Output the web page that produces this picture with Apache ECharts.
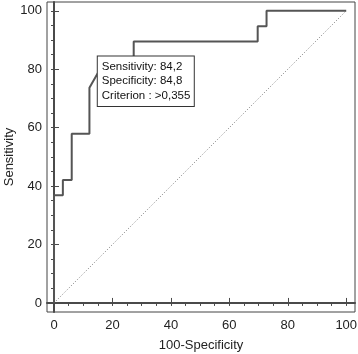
<!DOCTYPE html>
<html>
<head>
<meta charset="utf-8">
<script src="https://cdn.jsdelivr.net/npm/echarts@6/dist/echarts.min.js"></script>
<style>
  html, body { margin: 0; padding: 0; background: #fff; }
  #roc { width: 358px; height: 354px; }
</style>
</head>
<body>
<div id="roc"></div>
<script>
// ROC curve points (100-Specificity, Sensitivity)
var fpr = [0, 0, 3.03, 3.03, 6.06, 6.06, 12.12, 12.12, 15.15, 15.15, 27.27, 27.27, 69.7, 69.7, 72.73, 72.73, 100];
var tpr = [0, 36.84, 36.84, 42.11, 42.11, 57.89, 57.89, 73.68, 78.95, 84.21, 84.21, 89.47, 89.47, 94.74, 94.74, 100, 100];
// reference diagonal
var diagX = [0, 100];
var diagY = [0, 100];
// tick labels
var majorTicks = [0, 20, 40, 60, 80, 100];
var minorTicks = [0, 5, 10, 15, 20, 25, 30, 35, 40, 45, 50, 55, 60, 65, 70, 75, 80, 85, 90, 95, 100];
// optimal criterion
var critPoint = [15.15, 84.21];
var critText = ['Sensitivity: 84,2', 'Specificity: 84,8', 'Criterion : >0,355'];

var font = '"Liberation Sans", Arial, sans-serif';
var axisColor = '#4a4a4a';

function pairs(xs, ys) {
    var out = [];
    for (var i = 0; i < xs.length; i++) {
        out.push([xs[i], ys[i]]);
    }
    return out;
}

function makeAxis(isX, withLabels, ticks, tickLen) {
    var ax = {
        type: 'value',
        min: isX ? -2.4 : -3.1,
        max: 103,
        splitLine: { show: false },
        axisLine: { show: withLabels, lineStyle: { color: axisColor, width: 2 } },
        axisTick: {
            show: true,
            inside: true,
            length: tickLen,
            customValues: ticks,
            lineStyle: { color: axisColor, width: 1 }
        },
        axisLabel: {
            show: withLabels,
            customValues: majorTicks,
            color: '#222',
            fontFamily: font,
            fontSize: 13,
            margin: isX ? 7 : 5
        }
    };
    if (withLabels) {
        ax.name = isX ? '100-Specificity' : 'Sensitivity';
        ax.nameLocation = 'middle';
        ax.nameGap = isX ? 27 : 31;
        ax.nameMoveOverlap = false;
        ax.nameTextStyle = { color: '#222', fontFamily: font, fontSize: 13 };
    }
    return ax;
}

var chart = echarts.init(document.getElementById('roc'));
var option = {
    animation: false,
    grid: {
        left: 47, right: 3, top: 2, bottom: 42,
        show: true,
        borderColor: '#444',
        borderWidth: 1,
        outerBoundsMode: 'none'
    },
    xAxis: [makeAxis(true, true, majorTicks, 5), makeAxis(true, false, minorTicks, 3)],
    yAxis: [makeAxis(false, true, majorTicks, 5), makeAxis(false, false, minorTicks, 3)],
    series: [
        {
            type: 'line',
            data: pairs(diagX, diagY),
            symbol: 'none',
            lineStyle: { color: '#777', width: 1, type: [1, 2] },
            z: 1
        },
        {
            type: 'line',
            data: pairs(fpr, tpr),
            symbol: 'none',
            lineStyle: { color: '#555', width: 2 },
            z: 2,
            markPoint: {
                symbol: 'rect',
                symbolSize: 1,
                itemStyle: { color: 'rgba(0,0,0,0)' },
                data: [{ coord: critPoint }],
                label: {
                    show: true,
                    position: [0, 0],
                    align: 'left',
                    verticalAlign: 'top',
                    formatter: critText.join('\n'),
                    color: '#111',
                    fontFamily: font,
                    fontSize: 11.5,
                    lineHeight: 14.5,
                    backgroundColor: '#fff',
                    borderColor: '#333',
                    borderWidth: 1,
                    width: 90,
                    padding: [3, 2, 3, 4]
                }
            }
        }
    ]
};
chart.setOption(option);
</script>
</body>
</html>
